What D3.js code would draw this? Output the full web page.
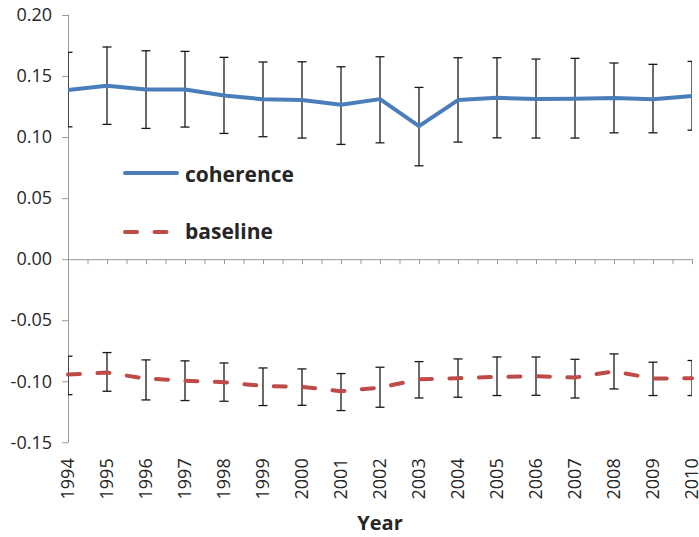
<!DOCTYPE html>
<html>
<head>
<meta charset="utf-8">
<script src="https://cdn.jsdelivr.net/npm/d3@7"></script>
<style>
  html, body { margin: 0; padding: 0; background: #fff; }
  svg { display: block; }
  text { font-family: "Open Sans", "Liberation Sans", sans-serif; }
</style>
</head>
<body>
<svg id="chart" width="699" height="537"></svg>
<script>
// Years on the category axis
const years = [1994, 1995, 1996, 1997, 1998, 1999, 2000, 2001, 2002,
               2003, 2004, 2005, 2006, 2007, 2008, 2009, 2010];

// Coherence series: mean with upper / lower error-bar ends
const coherence     = [0.1385, 0.1420, 0.1390, 0.1390, 0.1340, 0.1310, 0.1303, 0.1265, 0.1311,
                       0.1090, 0.1303, 0.1322, 0.1311, 0.1314, 0.1320, 0.1310, 0.1336];
const coherenceHigh = [0.1694, 0.1738, 0.1707, 0.1702, 0.1653, 0.1615, 0.1617, 0.1576, 0.1658,
                       0.1407, 0.1650, 0.1650, 0.1639, 0.1645, 0.1607, 0.1596, 0.1620];
const coherenceLow  = [0.1084, 0.1104, 0.1071, 0.1082, 0.1030, 0.1003, 0.0992, 0.0940, 0.0953,
                       0.0765, 0.0959, 0.0994, 0.0992, 0.0992, 0.1035, 0.1035, 0.1057];

// Baseline series: mean with upper / lower error-bar ends
const baseline     = [-0.0945, -0.0929, -0.0978, -0.0995, -0.1008, -0.1038, -0.1046, -0.1082, -0.1052,
                      -0.0984, -0.0975, -0.0964, -0.0959, -0.0970, -0.0918, -0.0978, -0.0975];
const baselineHigh = [-0.0795, -0.0765, -0.0825, -0.0833, -0.0850, -0.0891, -0.0899, -0.0937, -0.0885,
                      -0.0839, -0.0817, -0.0801, -0.0801, -0.0820, -0.0776, -0.0844, -0.0830];
const baselineLow  = [-0.1110, -0.1082, -0.1153, -0.1158, -0.1164, -0.1199, -0.1197, -0.1240, -0.1213,
                      -0.1137, -0.1131, -0.1117, -0.1115, -0.1137, -0.1063, -0.1117, -0.1117];

// Value-axis ticks and labels
const yTicks = [0.20, 0.15, 0.10, 0.05, 0.00, -0.05, -0.10, -0.15];
const seriesNames = ["coherence", "baseline"];

const svg = d3.select("#chart");
const plotLeft = 68, plotRight = 692, plotTop = 15, plotBottom = 442.3;

const x = d3.scaleLinear().domain([years[0], years[years.length - 1]]).range([plotLeft, plotRight]);
const y = d3.scaleLinear().domain([-0.15, 0.20]).range([plotBottom, plotTop]);

const axisColor = "#9a9a9a";
const textColor = "#262626";
const blue = "#4a7ebb";
const red = "#be4b48";

svg.append("defs").append("clipPath").attr("id", "plotClip")
  .append("rect").attr("x", plotLeft).attr("y", 0).attr("width", plotRight - plotLeft).attr("height", 537);

// Value axis (plain hyphen for negatives)
const yAxis = svg.append("g")
  .attr("transform", `translate(${plotLeft},0)`)
  .call(d3.axisLeft(y).tickValues(yTicks).tickSize(6).tickPadding(10)
        .tickFormat(d => d.toFixed(2)));
yAxis.select(".domain").attr("stroke", axisColor).attr("d", `M-0.5,${plotTop}H0.5V${plotBottom}H-0.5`);
yAxis.selectAll(".tick line").attr("stroke", axisColor);
yAxis.selectAll(".tick text")
  .attr("fill", textColor).attr("font-size", 18)
  .style("font-family", "'Open Sans', 'Liberation Sans', sans-serif");

// Category axis crossing at zero, with a tick every half year
const halfTicks = d3.range(years[0], years[years.length - 1] + 0.01, 0.5);
const xAxis = svg.append("g")
  .attr("transform", `translate(0,${y(0)})`)
  .call(d3.axisBottom(x).tickValues(halfTicks).tickSize(5).tickSizeOuter(0).tickFormat(""));
xAxis.select(".domain").attr("stroke", axisColor);
xAxis.selectAll(".tick line").attr("stroke", axisColor);

// Year labels along the bottom, rotated
const labelAxis = svg.append("g")
  .attr("transform", `translate(0,${plotBottom + 16})`)
  .call(d3.axisBottom(x).tickValues(years).tickSize(0).tickFormat(d3.format("d")));
labelAxis.select(".domain").remove();
labelAxis.selectAll(".tick text")
  .attr("transform", "rotate(-90)")
  .attr("x", 0).attr("y", 0).attr("dy", "0.33em")
  .attr("text-anchor", "end")
  .attr("fill", textColor).attr("font-size", 18)
  .style("font-family", "'Open Sans', 'Liberation Sans', sans-serif");

// Axis title
svg.append("text")
  .attr("x", (plotLeft + plotRight) / 2).attr("y", 530)
  .attr("text-anchor", "middle")
  .attr("font-size", 20).attr("font-weight", "bold").attr("fill", textColor)
  .text("Year");

// Error bars
function errorBars(highs, lows) {
  const g = svg.append("g").attr("clip-path", "url(#plotClip)")
    .attr("stroke", "#1a1a1a").attr("stroke-width", 1.3).attr("fill", "none");
  years.forEach((yr, i) => {
    const cx = x(yr), y1 = y(highs[i]), y2 = y(lows[i]);
    g.append("line").attr("x1", cx).attr("x2", cx).attr("y1", y1).attr("y2", y2);
    g.append("line").attr("x1", cx - 4.5).attr("x2", cx + 4.5).attr("y1", y1).attr("y2", y1);
    g.append("line").attr("x1", cx - 4.5).attr("x2", cx + 4.5).attr("y1", y2).attr("y2", y2);
  });
}
errorBars(coherenceHigh, coherenceLow);
errorBars(baselineHigh, baselineLow);

// Series lines
const line = d3.line().x(d => x(d[0])).y(d => y(d[1]));
svg.append("path")
  .datum(years.map((yr, i) => [yr, coherence[i]]))
  .attr("d", line).attr("fill", "none")
  .attr("stroke", blue).attr("stroke-width", 4).attr("stroke-linejoin", "round");
svg.append("path")
  .datum(years.map((yr, i) => [yr, baseline[i]]))
  .attr("d", line).attr("fill", "none")
  .attr("stroke", red).attr("stroke-width", 4)
  .attr("stroke-linecap", "round").attr("stroke-linejoin", "round")
  .attr("stroke-dasharray", "12,17.5");

// Legend
const legend = svg.append("g");
const legendRows = [
  { name: seriesNames[0], color: blue, dash: null, y: 173, textY: 182 },
  { name: seriesNames[1], color: red, dash: "12,17.5", y: 232, textY: 239 }
];
legendRows.forEach(r => {
  legend.append("line")
    .attr("x1", 125).attr("x2", r.dash ? 167 : 177)
    .attr("y1", r.y).attr("y2", r.y)
    .attr("stroke", r.color).attr("stroke-width", 4)
    .attr("stroke-linecap", "round")
    .attr("stroke-dasharray", r.dash);
  legend.append("text")
    .attr("x", 185).attr("y", r.textY)
    .attr("font-size", 21).attr("font-weight", "bold").attr("fill", textColor)
    .text(r.name);
});
</script>
</body>
</html>
